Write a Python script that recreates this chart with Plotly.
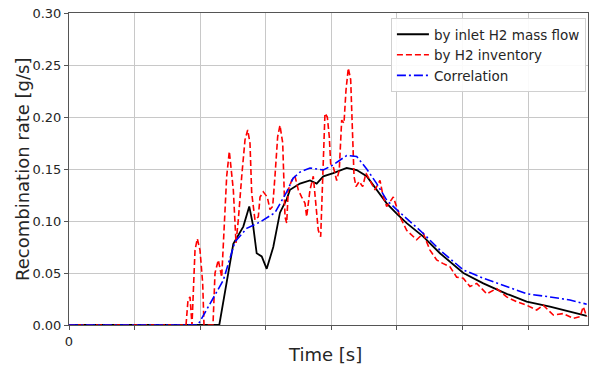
import plotly.graph_objects as go

# time in grid units (gridline spacing = 1)
t_inlet = [0, 2.291, 2.505, 2.657, 2.748, 2.809, 2.861, 2.938, 3.014, 3.114, 3.216, 3.319, 3.369,
           3.521, 3.674, 3.776, 3.877, 4.029, 4.233, 4.386, 4.538, 4.691, 4.843, 4.995, 5.148,
           5.401, 5.655, 6.011, 6.316, 6.672, 6.977, 7.332, 7.637, 7.892]
r_inlet = [0, 0, 0.078, 0.0946, 0.114, 0.0946, 0.069, 0.066, 0.054, 0.075, 0.108, 0.121, 0.130,
           0.136, 0.139, 0.136, 0.143, 0.146, 0.151, 0.149, 0.143, 0.130, 0.117, 0.107, 0.098,
           0.085, 0.069, 0.050, 0.040, 0.030, 0.0224, 0.0176, 0.0128, 0.0087]

t_inv = [0, 1.784, 1.814, 1.845, 1.875, 1.921, 1.956, 1.997, 2.038, 2.058, 2.134, 2.195, 2.226,
         2.276, 2.328, 2.352, 2.404, 2.444, 2.483, 2.505, 2.546, 2.581, 2.633, 2.683, 2.724,
         2.759, 2.785, 2.835, 2.886, 2.912, 2.962, 3.023, 3.064, 3.105, 3.140, 3.181, 3.216,
         3.258, 3.293, 3.319, 3.343, 3.395, 3.445, 3.495, 3.547, 3.598, 3.623, 3.674, 3.724,
         3.765, 3.800, 3.837, 3.867, 3.902, 3.938, 3.968, 3.989, 4.029, 4.081, 4.120, 4.157,
         4.192, 4.223, 4.258, 4.294, 4.325, 4.345, 4.375, 4.425, 4.477, 4.527, 4.588, 4.665,
         4.741, 4.791, 4.843, 4.944, 5.046, 5.148, 5.300, 5.401, 5.503, 5.605, 5.706, 5.808,
         5.910, 6.011, 6.113, 6.216, 6.367, 6.520, 6.672, 6.825, 6.977, 7.130, 7.230, 7.383,
         7.535, 7.688, 7.790, 7.840, 7.892]
r_inv = [0, 0, 0.024, 0.027, 0, 0.072, 0.083, 0.072, 0.040, 0, 0, 0, 0.050,
         0.0625, 0.046, 0.079, 0.143, 0.167, 0.143, 0.130, 0.079, 0.101, 0.143, 0.178, 0.1875,
         0.175, 0.127, 0.101, 0.104, 0.123, 0.128, 0.123, 0.111, 0.114, 0.143, 0.181, 0.192,
         0.175, 0.104, 0.098, 0.130, 0.139, 0.143, 0.130, 0.123, 0.117, 0.104, 0.130, 0.143,
         0.111, 0.091, 0.085, 0.136, 0.2035, 0.200, 0.181, 0.155, 0.152, 0.139, 0.149, 0.197,
         0.194, 0.226, 0.247, 0.236, 0.184, 0.143, 0.133, 0.138, 0.133, 0.146, 0.139, 0.130,
         0.139, 0.123, 0.114, 0.123, 0.104, 0.091, 0.082, 0.088, 0.072, 0.0625, 0.059, 0.056,
         0.046, 0.045, 0.037, 0.040, 0.030, 0.035, 0.027, 0.0224, 0.019, 0.0144, 0.019, 0.0096,
         0.011, 0.0064, 0.008, 0.0176, 0.008]

t_corr = [0, 1.966, 2.352, 2.530, 2.709, 2.912, 3.140, 3.319, 3.415, 3.521, 3.674, 3.877, 4.029,
          4.233, 4.386, 4.538, 4.691, 4.843, 4.995, 5.401, 5.655, 6.011, 6.316, 6.672, 6.977,
          7.332, 7.637, 7.892]
r_corr = [0, 0, 0.043, 0.080, 0.093, 0.099, 0.108, 0.128, 0.141, 0.147, 0.151, 0.149, 0.154,
          0.163, 0.162, 0.150, 0.136, 0.120, 0.111, 0.088, 0.072, 0.053, 0.045, 0.037, 0.030,
          0.027, 0.024, 0.020]

x_tickvals = [0, 1, 2, 3, 4, 5, 6, 7]
x_ticktext = ["0", "", "", "", "", "", "", ""]
y_tickvals = [0, 0.05, 0.10, 0.15, 0.20, 0.25, 0.30]

FONT = "DejaVu Sans"
TXT = "#262626"

fig = go.Figure()
fig.add_trace(go.Scatter(x=t_inlet, y=r_inlet, mode="lines", name="by inlet H2 mass flow",
                         line=dict(color="black", width=1.8)))
fig.add_trace(go.Scatter(x=t_inv, y=r_inv, mode="lines", name="by H2 inventory",
                         line=dict(color="red", width=1.6, dash="6px,3px")))
fig.add_trace(go.Scatter(x=t_corr, y=r_corr, mode="lines", name="Correlation",
                         line=dict(color="blue", width=1.6, dash="9px,3px,2px,3px")))

axis_common = dict(showline=True, linecolor="#555555", linewidth=1, mirror=True,
                   showgrid=True, gridcolor="#c8c8c8", gridwidth=1,
                   ticks="outside", ticklen=4, tickcolor="#555555", zeroline=False,
                   automargin=False,
                   tickfont=dict(family=FONT, size=13, color=TXT))

fig.update_xaxes(range=[0, 7.912], tickvals=x_tickvals, ticktext=x_ticktext, **axis_common)
fig.update_yaxes(range=[0, 0.30], tickvals=y_tickvals, tickformat=".2f", **axis_common)

fig.add_annotation(text="Time [s]", xref="paper", yref="paper", x=0.493, y=-0.096,
                   xanchor="center", yanchor="middle", showarrow=False,
                   font=dict(family=FONT, size=18, color=TXT))
fig.add_annotation(text="Recombination rate [g/s]", xref="paper", yref="paper", x=-0.0906, y=0.5,
                   xanchor="center", yanchor="middle", textangle=-90, showarrow=False,
                   font=dict(family=FONT, size=18, color=TXT))

fig.update_layout(
    width=590, height=369,
    margin=dict(l=69, r=2, t=13, b=44),
    paper_bgcolor="white", plot_bgcolor="white",
    font=dict(family=FONT, color=TXT),
    legend=dict(x=0.996, y=0.984, xanchor="right", yanchor="top",
                bgcolor="rgba(255,255,255,0.9)", bordercolor="#d0d0d0", borderwidth=1,
                font=dict(family=FONT, size=13.5, color=TXT), tracegroupgap=0,
                itemwidth=32),
    showlegend=True,
)

fig.write_html("out.html", config={"displayModeBar": False},
               post_script="document.body.style.margin='0';document.body.style.overflow='hidden';")
